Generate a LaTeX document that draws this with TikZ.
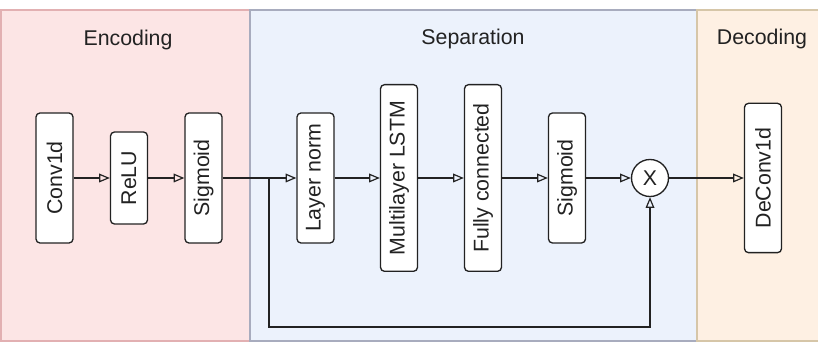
\documentclass[tikz,border=0pt]{standalone}
\usepackage{fontspec}
\setmainfont{Liberation Sans}
\usetikzlibrary{arrows.meta}
\definecolor{encfill}{RGB}{252,229,229}
\definecolor{encline}{RGB}{226,176,178}
\definecolor{sepfill}{RGB}{236,242,252}
\definecolor{sepline}{RGB}{168,172,190}
\definecolor{decfill}{RGB}{254,240,227}
\definecolor{decline}{RGB}{214,198,168}
\definecolor{txt}{RGB}{34,34,34}
\begin{document}
\begin{tikzpicture}[x=0.75pt,y=-0.75pt,
    every node/.style={text=txt,font=\fontsize{16}{19}\selectfont},
    block/.style={draw=txt,line width=1pt,rounded corners=3pt,fill=white,rotate=90,
                  minimum height=27.75pt,inner sep=0pt},
    arr/.style={-{Triangle[open,length=8pt,width=6.5pt]},line width=0.9pt,draw=txt}]
  \useasboundingbox (0,0) rectangle (818,342);
  % panels
  \draw[fill=encfill,draw=encline,line width=1pt] (1,10) rectangle (250,341);
  \draw[fill=sepfill,draw=sepline,line width=1pt] (250,10) rectangle (697,341);
  \draw[fill=decfill,draw=decline,line width=1pt] (697,10) rectangle (820,341);
  \node at (128,40) {Encoding};
  \node at (473,39) {Separation};
  \node at (762,39) {Decoding};

  % encoding
  \node[block,minimum width=97.5pt] (conv) at (54.5,178) {Conv1d};
  \node[block,minimum width=69pt] (relu) at (129,178) {ReLU};
  \node[block,minimum width=97.5pt] (sigA) at (203.5,178) {Sigmoid};

  % separation
  \node[block,minimum width=97.5pt] (norm) at (315.5,178) {Layer norm};
  \node[block,minimum width=140pt] (lstm) at (399,178) {Multilayer LSTM};
  \node[block,minimum width=140pt] (fc) at (483,178) {Fully connected};
  \node[block,minimum width=97.5pt] (sigB) at (567,178) {Sigmoid};
  \node[draw=txt,line width=1pt,circle,minimum size=27.75pt,inner sep=0pt,fill=white] (mul) at (650,178) {X};

  % decoding
  \node[block,minimum width=112pt] (deconv) at (763,178) {DeConv1d};

  \draw[arr] (conv) -- (relu);
  \draw[arr] (relu) -- (sigA);
  \draw[arr] (sigA) -- (norm);
  \draw[arr] (norm) -- (lstm);
  \draw[arr] (lstm) -- (fc);
  \draw[arr] (fc) -- (sigB);
  \draw[arr] (sigB) -- (mul);
  \draw[arr] (mul) -- (deconv);

  \coordinate (split) at (269,178);
  \coordinate (turn) at (269,327);
  \draw[arr] (split) -- (turn) -| (mul);
\end{tikzpicture}
\end{document}
